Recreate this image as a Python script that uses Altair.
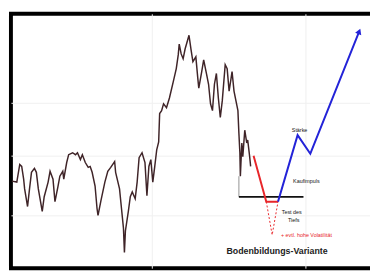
import altair as alt
import pandas as pd

# Price history (trading day index, index level)
price_days = [4, 24, 36, 44, 52, 56, 68, 76, 84, 96, 104, 112, 128, 136, 152, 160, 172, 180, 192, 200,
              212, 216, 228, 236, 252, 264, 272, 284, 292, 304, 316, 324, 332, 344, 352, 356, 368, 384,
              396, 408, 424, 428, 444, 452, 460, 464, 468, 480, 488, 496, 508, 516, 524, 536, 548, 556,
              564, 572, 580, 588, 596, 604, 608, 616, 624, 636, 648, 664, 676, 684, 688, 696, 704, 712,
              728, 736, 744, 756, 764, 768, 780, 788, 800, 808, 816, 824, 832, 840, 848, 856, 864, 876,
              884, 892, 900, 904, 912, 920, 928, 932, 936, 938, 944, 948, 956, 964, 968, 976, 980]
price_values = [1390, 1380, 1560, 1540, 1410, 1310, 1130, 1310, 1480, 1520, 1480, 1310, 1080, 1230, 1380,
                1490, 1410, 1180, 1330, 1440, 1490, 1410, 1580, 1660, 1680, 1660, 1680, 1610, 1660, 1580,
                1530, 1540, 1480, 1340, 1110, 1040, 1190, 1380, 1490, 1530, 1590, 1480, 1310, 1110, 910,
                660, 880, 1080, 1230, 1280, 1210, 1380, 1630, 1680, 1580, 1240, 1540, 1610, 1380, 1540,
                1710, 1790, 2080, 2110, 2180, 2140, 2240, 2410, 2540, 2680, 2790, 2690, 2640, 2740, 2880,
                2740, 2610, 2660, 2440, 2340, 2510, 2630, 2480, 2380, 2180, 2110, 2380, 2490, 2240, 2040,
                2210, 2580, 2540, 2310, 2440, 2510, 2310, 2210, 2110, 1880, 1680, 1440, 1780, 1640, 1910,
                1780, 1810, 1640, 1540]

# Schematic scenario
support_days = [932, 1196]
support_level = [1230, 1230]
low_mark_days = [932, 932]
low_mark_values = [1440, 1230]
red_days = [992, 1044, 1092]
red_values = [1650, 1180, 1180]
dotted_days = [1044, 1068, 1092]
dotted_values = [1180, 840, 1180]
blue_days = [1092, 1172, 1224, 1424]
blue_values = [1180, 1860, 1670, 2920]

# Annotations
black_labels = ["Stärke", "Kaufimpuls", "Test des", "Tiefs"]
black_label_days = [1180, 1208, 1148, 1156]
black_label_values = [1910, 1390, 1070, 990]
red_labels = ["+ evtl. hohe Volatilität"]
red_label_days = [1208]
red_label_values = [840]
title_labels = ["Bodenbildungs-Variante"]
title_days = [1088]
title_values = [670]

# Grid positions
x_grid = [576, 1204]
y_grid = [1043, 1650, 2193]

xs = alt.Scale(domain=[0, 1500], nice=False, zero=False)
ys = alt.Scale(domain=[500, 3100], nice=False, zero=False)
xax = alt.Axis(values=x_grid, labels=False, ticks=False, domain=False, grid=True,
               gridColor="#f0f0f0", gridWidth=1, title=None)
yax = alt.Axis(values=y_grid, labels=False, ticks=False, domain=False, grid=True,
               gridColor="#f0f0f0", gridWidth=1, title=None)


def enc(df):
    return dict(x=alt.X("day:Q", scale=xs, axis=xax),
                y=alt.Y("value:Q", scale=ys, axis=yax))


def frame(d, v):
    df = pd.DataFrame({"day": d, "value": v})
    df["order"] = range(len(df))
    return df


price_df = frame(price_days, price_values)
price = alt.Chart(price_df).mark_line(color="#3f2428", strokeWidth=1.5).encode(
    order="order:Q", **enc(price_df))

low_df = frame(low_mark_days, low_mark_values)
low_line = alt.Chart(low_df).mark_line(color="#777777", strokeWidth=0.8).encode(
    order="order:Q", **enc(low_df))

sup_df = frame(support_days, support_level)
support = alt.Chart(sup_df).mark_line(color="#111111", strokeWidth=1.8).encode(
    order="order:Q", **enc(sup_df))

red_df = frame(red_days, red_values)
red = alt.Chart(red_df).mark_line(color="#e8262a", strokeWidth=2).encode(
    order="order:Q", **enc(red_df))

dot_df = frame(dotted_days, dotted_values)
dotted = alt.Chart(dot_df).mark_line(color="#e8262a", strokeWidth=1, strokeDash=[2, 2]).encode(
    order="order:Q", **enc(dot_df))

blue_df = frame(blue_days, blue_values)
blue = alt.Chart(blue_df).mark_line(color="#2323d8", strokeWidth=2).encode(
    order="order:Q", **enc(blue_df))

tip_df = frame(blue_days[-1:], blue_values[-1:])
tip = alt.Chart(tip_df).mark_point(shape="triangle-up", filled=True, size=45, angle=22,
                                   color="#2323d8", opacity=1).encode(**enc(tip_df))

bl_df = pd.DataFrame({"day": black_label_days, "value": black_label_values, "label": black_labels})
black_text = alt.Chart(bl_df).mark_text(font="Liberation Sans", fontSize=5.5, color="#111111",
                                        align="center", baseline="middle").encode(
    text="label:N", **enc(bl_df))

rl_df = pd.DataFrame({"day": red_label_days, "value": red_label_values, "label": red_labels})
red_text = alt.Chart(rl_df).mark_text(font="Liberation Sans", fontSize=5.5, color="#e8262a",
                                      align="center", baseline="middle").encode(
    text="label:N", **enc(rl_df))

tl_df = pd.DataFrame({"day": title_days, "value": title_values, "label": title_labels})
title_text = alt.Chart(tl_df).mark_text(font="Liberation Sans", fontSize=9, fontWeight="bold",
                                        color="#222222", align="center", baseline="middle").encode(
    text="label:N", **enc(tl_df))

chart = alt.layer(price, low_line, support, red, dotted, blue, tip,
                  black_text, red_text, title_text).properties(
    width=375, height=260,
    padding={"left": 3, "top": 3, "right": -8, "bottom": 2},
    autosize=alt.AutoSizeParams(type="none"),
    background="white",
).configure_view(stroke="#000000", strokeWidth=4)

chart.save("out.html", embed_options={"renderer": "svg", "actions": False})
